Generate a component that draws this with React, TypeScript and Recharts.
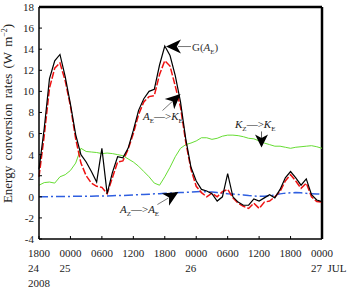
import React from 'react';
import { LineChart, Line, XAxis, YAxis, ReferenceDot, ReferenceLine } from 'recharts';

const hours = [
  0, 1, 2, 3, 4, 5, 6, 7, 8, 9, 10, 11, 12, 13, 14, 15, 16, 17, 18, 19, 20, 21, 22, 23, 24, 25, 26, 27,
  28, 29, 30, 31, 32, 33, 34, 35, 36, 37, 38, 39, 40, 41, 42, 43, 44, 45, 46, 47, 48, 49, 50, 51, 52, 53, 54,
];

// G(A_E)
const gAE = [
  2.6, 6.5, 11.2, 12.9, 13.5, 11.4, 8.8, 5.9, 4.0, 3.3, 2.4, 1.4, 4.6, 0.3, 2.3, 3.8, 3.7, 4.6, 6.3, 8.2,
  9.3, 10.0, 10.2, 12.5, 14.3, 13.4, 11.5, 9.0, 5.5, 2.8, 1.5, 0.7, 0.55, 0.3, -0.4, 0.0, 2.2, 0.0, -0.5,
  -0.8, -0.8, -0.2, -0.4, -0.1, 0.2, -0.1, 0.7, 1.8, 2.4, 1.8, 1.1, 1.7, 0.2, -0.3, -0.45,
];

// A_E -> K_E
const aeToKe = [
  1.9, 5.8, 10.3, 12.2, 12.7, 11.0, 8.6, 5.5, 3.2, 2.0, 1.3, 1.0, 0.9, 0.3, 1.8, 3.3, 3.4, 4.5, 6.0, 7.8,
  9.0, 9.5, 9.6, 11.6, 12.9, 12.4, 10.5, 8.5, 5.2, 2.6, 1.0, 0.4, 0.0, 0.35, 0.0, 0.5, 0.7, -0.1, -0.6,
  -0.9, -1.1, -0.6, -1.1, -0.5, -0.4, 0.0, 0.5, 1.5, 2.1, 1.5, 0.8, 1.3, 0.0, -0.45, -0.5,
];

// K_Z -> K_E
const kzToKe = [
  1.1, 1.35, 1.4, 1.3, 1.9, 2.1, 2.5, 3.2, 4.6, 4.3, 4.25, 4.2, 4.1, 4.15, 4.1, 4.0, 3.9, 3.6, 3.3, 2.9,
  2.4, 1.9, 1.3, 1.1, 1.9, 2.8, 3.8, 4.6, 4.95, 5.1, 5.3, 5.6, 5.6, 5.45, 5.55, 5.75, 5.85, 5.85, 5.8,
  5.7, 5.55, 5.5, 5.3, 5.1, 4.95, 4.8, 4.8, 4.7, 4.6, 4.7, 4.75, 4.8, 4.85, 4.75, 4.6,
];

// A_Z -> A_E
const azToAe = [
  0.0, 0.0, 0.02, 0.02, 0.03, 0.03, 0.04, 0.05, 0.05, 0.06, 0.06, 0.07, 0.08, 0.08, 0.1, 0.12, 0.13, 0.15,
  0.18, 0.2, 0.22, 0.25, 0.28, 0.3, 0.33, 0.35, 0.38, 0.4, 0.42, 0.45, 0.48, 0.5, 0.48, 0.45, 0.4, 0.35,
  0.3, 0.27, 0.22, 0.18, 0.12, 0.08, 0.05, 0.05, 0.1, 0.18, 0.28, 0.35, 0.38, 0.4, 0.38, 0.33, 0.3, 0.27, 0.25,
];

const xTicks = [0, 6, 12, 18, 24, 30, 36, 42, 48, 54];
const xTickTimes = ['1800', '0000', '0600', '1200', '1800', '0000', '0600', '1200', '1800', '0000'];
const xTickDays = ['24', '25', '', '', '', '26', '', '', '', '27  JUL'];
const xTickYears = ['2008', '', '', '', '', '', '', '', '', ''];
const yTicks = [-4, -2, 0, 2, 4, 6, 8, 10, 12, 14, 16, 18];

const data = hours.map((h, i) => ({
  h,
  g: gAE[i],
  ae: aeToKe[i],
  kz: kzToKe[i],
  az: azToAe[i],
}));

const FONT = "'Liberation Serif', 'Times New Roman', serif";

const XTick = (props: any) => {
  const { x, y, payload } = props;
  const i = xTicks.indexOf(payload.value);
  return (
    <g>
      <line x1={x} x2={x} y1={y} y2={y - 3} stroke="#000" strokeWidth={1} />
      <text x={x} y={y + 18} textAnchor="middle" fontFamily={FONT} fontSize={11} fill="#222">
        {xTickTimes[i]}
      </text>
      <text x={x - 11} y={y + 33} textAnchor="start" fontFamily={FONT} fontSize={11} fill="#222" style={{ whiteSpace: 'pre' }}>
        {xTickDays[i]}
      </text>
      <text x={x - 11} y={y + 48} textAnchor="start" fontFamily={FONT} fontSize={11} fill="#222">
        {xTickYears[i]}
      </text>
    </g>
  );
};

const YTick = (props: any) => {
  const { x, y, payload } = props;
  return (
    <g>
      <line x1={x} x2={x + 3} y1={y} y2={y} stroke="#000" strokeWidth={1} />
      <text x={x - 5} y={y + 4} textAnchor="end" fontFamily={FONT} fontSize={11} fill="#222">
        {payload.value}
      </text>
    </g>
  );
};

const YLabel = (props: any) => {
  const vb = props.viewBox || { x: 9, y: 7, width: 30, height: 232 };
  const cx = vb.x + 3;
  const cy = vb.y + vb.height / 2 - 9.5;
  return (
    <text
      x={cx}
      y={cy}
      transform={`rotate(-90, ${cx}, ${cy})`}
      textAnchor="middle"
      fontFamily={FONT}
      fontSize={13}
      fill="#222"
      style={{ wordSpacing: '2px' }}
    >
      Energy conversion rates (W m
      <tspan fontSize={8} dy={-5}>−2</tspan>
      <tspan dy={5}>)</tspan>
    </text>
  );
};

function arrowPath(tx: number, ty: number, angleDeg: number, len = 14, half = 7) {
  const a = (angleDeg * Math.PI) / 180;
  const ux = Math.cos(a);
  const uy = Math.sin(a);
  const px = -uy;
  const py = ux;
  const bx = tx - ux * len;
  const by = ty - uy * len;
  const nx = tx - ux * len * 0.72;
  const ny = ty - uy * len * 0.72;
  return `M${tx},${ty} L${bx + px * half},${by + py * half} L${nx},${ny} L${bx - px * half},${by - py * half} Z`;
}

const Sub = ({ a, s, italic = true }: { a: string; s: string; italic?: boolean }) => null;

const GShape = (props: any) => {
  const { cx, cy } = props;
  return (
    <g>
      <path d={arrowPath(cx, cy, 180, 15, 7)} fill="#000" />
      <line x1={cx + 12} y1={cy} x2={cx + 25} y2={cy} stroke="#555" strokeWidth={0.8} />
      <text x={cx + 26} y={cy + 4.5} fontFamily={FONT} fontSize={11} fill="#333">
        G(<tspan fontStyle="italic">A</tspan>
        <tspan fontSize={7} dy={2.5}>E</tspan>
        <tspan dy={-2.5}>)</tspan>
      </text>
    </g>
  );
};

const AeKeShape = (props: any) => {
  const { cx, cy } = props;
  const ang = (Math.atan2(-16, 17.5) * 180) / Math.PI;
  return (
    <g>
      <line x1={cx - 18} y1={cy + 16.5} x2={cx - 8} y2={cy + 7.3} stroke="#555" strokeWidth={0.8} />
      <path d={arrowPath(cx, cy, ang, 15, 7)} fill="#000" />
      <text x={cx - 37.5} y={cy + 26} fontFamily={FONT} fontSize={11} fill="#222">
        <tspan fontStyle="italic">A</tspan>
        <tspan fontSize={7} dy={2.5}>E</tspan>
        <tspan dy={-2.5}>—&gt;</tspan>
        <tspan fontStyle="italic">K</tspan>
        <tspan fontSize={7} dy={2.5}>E</tspan>
      </text>
    </g>
  );
};

const KzKeShape = (props: any) => {
  const { cx, cy } = props;
  return (
    <g>
      <line x1={cx} y1={cy - 16} x2={cx} y2={cy - 9} stroke="#333" strokeWidth={0.8} />
      <path d={arrowPath(cx, cy, 90, 13, 6.5)} fill="#000" />
      <text x={cx - 26.5} y={cy - 19} fontFamily={FONT} fontSize={11} fill="#222">
        <tspan fontStyle="italic">K</tspan>
        <tspan fontSize={7} dy={2.5}>Z</tspan>
        <tspan dy={-2.5}>—&gt;</tspan>
        <tspan fontStyle="italic">K</tspan>
        <tspan fontSize={7} dy={2.5}>E</tspan>
      </text>
    </g>
  );
};

const AzAeShape = (props: any) => {
  const { cx, cy } = props;
  const ang = (Math.atan2(-12, 20.5) * 180) / Math.PI;
  return (
    <g>
      <line x1={cx - 21} y1={cy + 12.5} x2={cx - 10} y2={cy + 6} stroke="#555" strokeWidth={0.8} />
      <path d={arrowPath(cx, cy, ang, 15, 7)} fill="#000" />
      <text x={cx - 58.5} y={cy + 21} fontFamily={FONT} fontSize={11} fill="#222">
        <tspan fontStyle="italic">A</tspan>
        <tspan fontSize={7} dy={2.5}>Z</tspan>
        <tspan dy={-2.5}>—&gt;</tspan>
        <tspan fontStyle="italic">A</tspan>
        <tspan fontSize={7} dy={2.5}>E</tspan>
      </text>
    </g>
  );
};

export default function App() {
  return (
    <div style={{ position: 'absolute', left: 0, top: 0, width: 351, height: 291, background: '#fff' }}>
      <LineChart width={351} height={291} data={data} margin={{ top: 7, right: 29, bottom: 0, left: 9 }}>
        <XAxis
          dataKey="h"
          type="number"
          domain={[0, 54]}
          ticks={xTicks}
          tick={<XTick />}
          tickLine={false}
          tickSize={0}
          tickMargin={0}
          height={52}
          axisLine={{ stroke: '#000', strokeWidth: 1.5 }}
          interval={0}
        />
        <YAxis
          type="number"
          domain={[-4, 18]}
          ticks={yTicks}
          tick={<YTick />}
          tickLine={false}
          tickSize={0}
          tickMargin={0}
          width={30}
          axisLine={{ stroke: '#000', strokeWidth: 1.5 }}
          interval={0}
          label={<YLabel />}
        />
        <ReferenceLine y={18} stroke="#000" strokeWidth={2.5} />
        <ReferenceLine x={54} stroke="#000" strokeWidth={2.5} />
        <Line dataKey="kz" stroke="#66dd33" strokeWidth={1} dot={false} isAnimationActive={false} />
        <Line
          dataKey="az"
          stroke="#2f5fe0"
          strokeWidth={1.5}
          strokeDasharray="9 3 2 3"
          dot={false}
          isAnimationActive={false}
        />
        <Line
          dataKey="ae"
          stroke="#ee1111"
          strokeWidth={1.5}
          strokeDasharray="7 2"
          dot={false}
          isAnimationActive={false}
        />
        <Line dataKey="g" stroke="#000" strokeWidth={1.2} dot={false} isAnimationActive={false} />
        <ReferenceDot x={24.23} y={14.25} r={0} shape={<GShape />} />
        <ReferenceDot x={27.0} y={9.75} r={0} shape={<AeKeShape />} />
        <ReferenceDot x={42.46} y={4.68} r={0} shape={<KzKeShape />} />
        <ReferenceDot x={26.6} y={0.455} r={0} shape={<AzAeShape />} />
      </LineChart>
    </div>
  );
}
